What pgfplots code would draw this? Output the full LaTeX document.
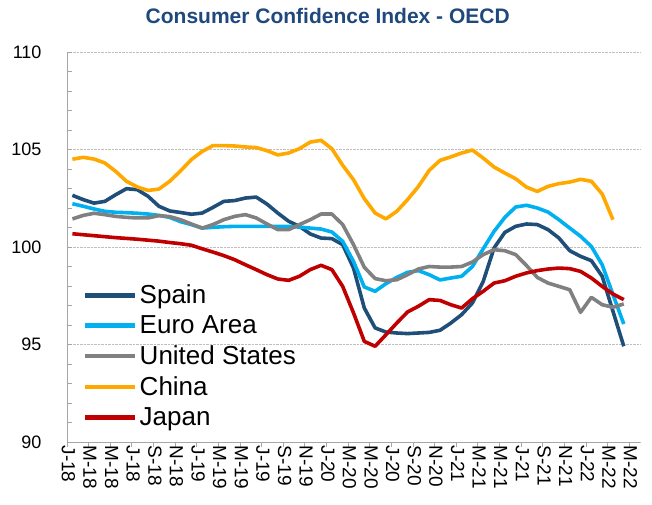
\documentclass[border=0pt]{standalone}
\usepackage{fontspec}
\setmainfont{Liberation Sans}
\usepackage{pgfplots}
\usepackage{pgfplotstable}
\pgfplotsset{compat=1.18}
\definecolor{spain}{RGB}{31,78,121}
\definecolor{euro}{RGB}{0,176,240}
\definecolor{usa}{RGB}{128,128,128}
\definecolor{china}{RGB}{255,168,0}
\definecolor{japan}{RGB}{192,0,0}
\definecolor{titleblue}{RGB}{31,73,125}
\definecolor{axisgray}{RGB}{166,166,166}
\definecolor{gridgray}{RGB}{191,191,191}

\pgfplotstableread{
x spain euro us china japan
0 102.65 102.22 101.44 104.50 100.68
1 102.43 102.09 101.62 104.60 100.63
2 102.25 101.95 101.73 104.51 100.58
3 102.34 101.83 101.66 104.31 100.53
4 102.68 101.78 101.57 103.88 100.48
5 102.99 101.76 101.52 103.37 100.44
6 102.94 101.73 101.49 103.08 100.40
7 102.60 101.69 101.49 102.90 100.35
8 102.09 101.62 101.61 102.97 100.30
9 101.85 101.52 101.56 103.37 100.23
10 101.77 101.30 101.40 103.90 100.17
11 101.68 101.15 101.18 104.48 100.09
12 101.74 100.97 100.97 104.90 99.91
13 102.03 101.01 101.15 105.20 99.74
14 102.34 101.04 101.40 105.20 99.56
15 102.38 101.06 101.57 105.18 99.35
16 102.51 101.06 101.66 105.13 99.09
17 102.56 101.06 101.49 105.10 98.84
18 102.20 101.06 101.18 104.94 98.58
19 101.74 101.06 100.89 104.72 98.36
20 101.32 101.06 100.89 104.82 98.29
21 101.06 101.02 101.15 105.04 98.50
22 100.67 100.97 101.40 105.38 98.84
23 100.46 100.92 101.69 105.47 99.06
24 100.43 100.77 101.69 105.04 98.84
25 100.12 100.29 101.15 104.19 97.98
26 98.92 99.26 100.12 103.45 96.62
27 96.87 97.95 98.96 102.48 95.16
28 95.85 97.73 98.38 101.74 94.91
29 95.64 98.12 98.27 101.44 95.50
30 95.59 98.44 98.32 101.83 96.10
31 95.56 98.70 98.58 102.43 96.67
32 95.59 98.79 98.87 103.10 96.96
33 95.62 98.58 99.00 103.93 97.30
34 95.73 98.31 98.97 104.44 97.26
35 96.10 98.41 98.97 104.62 97.04
36 96.53 98.50 99.00 104.82 96.87
37 97.13 99.00 99.23 104.97 97.35
38 98.24 99.91 99.61 104.56 97.73
39 99.95 100.80 99.86 104.10 98.15
40 100.75 101.52 99.81 103.79 98.27
41 101.06 102.05 99.61 103.50 98.50
42 101.18 102.14 99.05 103.07 98.67
43 101.15 102.00 98.44 102.85 98.79
44 100.89 101.79 98.15 103.11 98.87
45 100.46 101.40 97.98 103.25 98.92
46 99.81 100.97 97.81 103.33 98.89
47 99.52 100.55 96.65 103.47 98.75
48 99.30 100.03 97.42 103.37 98.41
49 98.50 99.09 97.04 102.72 97.98
50 96.70 97.56 96.91 101.40 97.59
51 94.91 96.05 97.08 nan 97.30
}\data

\begin{document}
\begin{tikzpicture}
\path[use as bounding box] (-67pt,-62pt) rectangle (585pt,442pt);
\begin{axis}[
  at={(0pt,0pt)}, anchor=south west,
  scale only axis, width=573pt, height=390pt,
  xmin=-0.5, xmax=52.5, ymin=90, ymax=110,
  axis x line*=bottom, axis y line*=left,
  axis line style={axisgray, line width=0.8pt},
  ytick={90,95,...,110}, minor y tick num=4,
  ymajorgrids, major grid style={gridgray, densely dotted, line width=0.8pt},
  tick align=inside,
  major tick length=5pt, minor tick length=5pt,
  ytick style={axisgray, line width=0.8pt},
  xtick={-0.5,1.5,...,51.5}, xticklabels={},
  xtick style={axisgray, line width=0.8pt, yshift=-5pt},
  extra x ticks={0,2,...,52},
  extra x tick labels={J-18,M-18,M-18,J-18,S-18,N-18,J-19,M-19,M-19,J-19,S-19,N-19,J-20,M-20,M-20,J-20,S-20,N-20,J-21,M-21,M-21,J-21,S-21,N-21,J-22,M-22,M-22},
  extra x tick style={major tick length=0pt},
  xticklabel style={rotate=-90, anchor=west, font=\fontsize{19}{19}\selectfont, yshift=-4pt},
  yticklabel style={font=\fontsize{18}{18}\selectfont, xshift=-22pt},
  /pgf/number format/assume math mode=true,
  unbounded coords=jump,
  title={Consumer Confidence Index - OECD},
  title style={font=\bfseries\fontsize{21}{21}\selectfont, color=titleblue, at={(0.455,1)}, anchor=center, yshift=30pt},
  legend style={at={(0.028,0.408)}, anchor=north west, draw=none, fill=none,
    font=\fontsize{26}{30}\selectfont, row sep=6.6pt, inner sep=0pt},
  legend cell align=left,
  legend image code/.code={\draw[#1, line width=4.5pt] (0pt,0pt) -- (50pt,0pt);},
  every axis plot/.append style={line width=3.6pt, line join=round, no markers},
]
\addplot[spain] table[x=x, y=spain] {\data};
\addlegendentry{Spain}
\addplot[euro] table[x=x, y=euro] {\data};
\addlegendentry{Euro Area}
\addplot[usa] table[x=x, y=us] {\data};
\addlegendentry{United States}
\addplot[china] table[x=x, y=china] {\data};
\addlegendentry{China}
\addplot[japan] table[x=x, y=japan] {\data};
\addlegendentry{Japan}
\end{axis}
\end{tikzpicture}
\end{document}
